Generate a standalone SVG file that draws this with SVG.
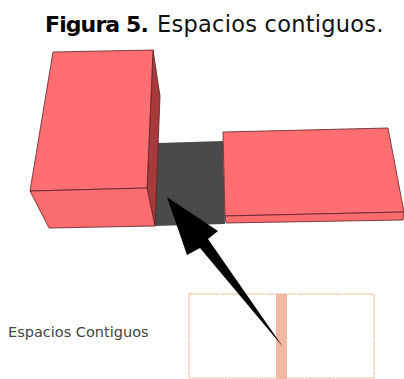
<svg xmlns="http://www.w3.org/2000/svg" width="404" height="379" viewBox="0 0 404 379">
<style>
.e{stroke:#5a2024;stroke-width:.8;stroke-linejoin:round}
.t{fill:#ff6f72}.f{fill:#fb6c6e}.s{fill:#a93a3c}
text{font-family:"DejaVu Sans",sans-serif}
.p{fill:none;stroke:#f0b79e;stroke-width:1;stroke-dasharray:30 1 45 1}
</style>
<rect width="404" height="379" fill="#fff"/>
<text x="45" y="32" font-size="22" font-weight="bold" letter-spacing="-.9" fill="#000">Figura 5.</text>
<text x="157" y="32" font-size="22.5" letter-spacing=".25" fill="#111">Espacios contiguos.</text>
<g id="dark-space"><polygon points="158,143 223,141 225,224 154,226" fill="#4a4a4a"/></g>
<g id="left-block">
<polygon class="e s" points="153,50 160,96 155,226 147,188"/>
<polygon class="e t" points="53,52 153,50 147,188 30,191"/>
<polygon class="e f" points="30,191 147,188 155,226 49,228"/>
</g>
<g id="right-block">
<polygon class="e t" points="223,132 388,128 404,212 225,216"/>
<polygon class="e f" points="225,216 404,212 403,220 226,223"/>
</g>
<g id="plan">
<rect class="p" x="189" y="294" width="185" height="84"/>
<rect x="276" y="294" width="11" height="85" fill="#f0b9a2"/>
</g>
<g id="connectors">
<polygon points="167,197 218,231 208,239 283,347 200,248 187,255" fill="#000"/>
</g>
<g id="label"><text x="8" y="337" font-size="14.5" fill="#444">Espacios Contiguos</text></g>
</svg>
